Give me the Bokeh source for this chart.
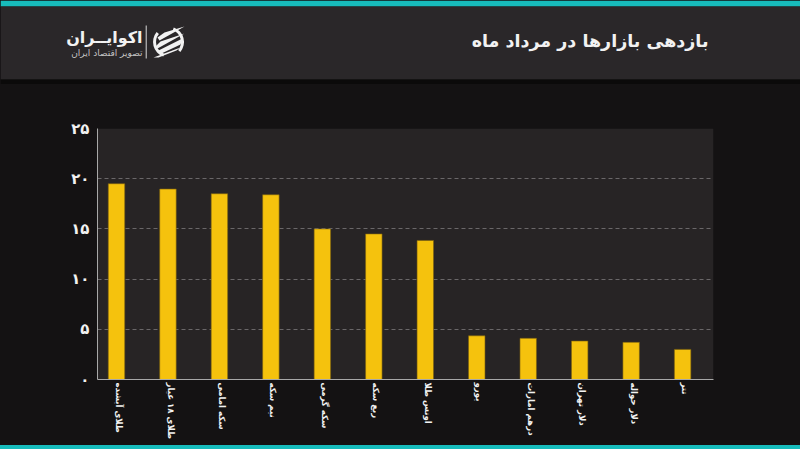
import math
from bokeh.plotting import figure
from bokeh.layouts import column
from bokeh.models import BoxAnnotation, Div, FixedTicker, Range1d
from bokeh.core.properties import value
from bokeh.embed import file_html
from bokeh.resources import INLINE

categories = ["طلای آبشده", "طلای ۱۸ عیار", "سکه امامی", "نیم سکه", "سکه گرمی", "ربع سکه",
              "اونس طلا", "یورو", "درهم امارات", "دلار تهران", "دلار حواله", "تتر"]
returns = [19.5, 18.97, 18.5, 18.4, 15.0, 14.5, 13.85, 4.35, 4.1, 3.83, 3.7, 3.0]
y_ticks = [0, 5, 10, 15, 20, 25]
y_tick_labels = ["۰", "۵", "۱۰", "۱۵", "۲۰", "۲۵"]
title_text = "بازدهی بازارها در مرداد ماه"
brand_text = "اکوایــران"
tagline_text = "تصویر اقتصاد ایران"

FONT = "DejaVu Sans"
BG = "#141213"
PANEL = "#2a2729"
TEAL = "#17bcbc"
WHITE = "#f2f2f2"

# ---- header strip: a figure whose ranges are its own pixels
h = figure(x_range=Range1d(0, 800), y_range=Range1d(84, 0), width=800, height=84,
           output_backend="svg", toolbar_location=None, min_border=0, frame_align=False,
           background_fill_color=None, border_fill_color=None, outline_line_color=None)
h.axis.visible = False
h.grid.visible = False
h.quad(left=[0], right=[800], top=[0], bottom=[6], fill_color=TEAL, line_color=None)
h.quad(left=[0], right=[800], top=[6], bottom=[79], fill_color=PANEL, line_color=None)
h.quad(left=[0], right=[800], top=[79], bottom=[84], fill_color="#0b0a0a", line_color=None)

h.text(x=[708], y=[40], text=[title_text], text_font=value(FONT), text_font_size="17.5px",
       text_font_style="bold", text_color=WHITE, text_align="right", text_baseline="middle")
h.text(x=[142], y=[37], text=[brand_text], text_font=value(FONT), text_font_size="16px",
       text_font_style="bold", text_color=WHITE, text_align="right", text_baseline="middle")
h.text(x=[142], y=[52], text=[tagline_text], text_font=value(FONT), text_font_size="9px",
       text_color="#c4c4c4", text_align="right", text_baseline="middle")
h.quad(left=[145.2], right=[146.2], top=[25], bottom=[58], fill_color="#d8d8d8", line_color=None)

# logo: ring arcs and diagonal stripes
h.annular_wedge(x=[168, 168], y=[41.5, 41.5], inner_radius=12.5, outer_radius=15.5,
                start_angle=[math.radians(140), math.radians(-40)],
                end_angle=[math.radians(250), math.radians(70)],
                direction="anticlock", fill_color=WHITE, line_color=None)
h.patches(xs=[[184, 164, 157, 159], [184, 160, 155, 157], [182, 158, 161, 180], [180, 153, 158, 176]],
          ys=[[26, 32, 37, 40], [33, 41, 46, 48], [38, 50, 53, 44], [47, 57, 57, 50]],
          fill_color=WHITE, line_color=None)

# ---- chart
positions = list(range(len(categories)))
label_ticks = [i + 0.05 for i in positions]
p = figure(x_range=Range1d(-0.369, 11.6), y_range=Range1d(0, 25), width=800, height=361,
           frame_width=616, frame_height=251,
           output_backend="svg", toolbar_location=None, frame_align=False,
           min_border_left=97, min_border_right=87, min_border_top=44, min_border_bottom=66,
           background_fill_color=None, border_fill_color=None, outline_line_color=None)

p.add_layout(BoxAnnotation(fill_color="#272425", fill_alpha=1, line_color=None, level="image"))
p.vbar(x=positions, top=returns, width=0.32, fill_color="#f5c20d", line_color="#7a5f10", line_width=0.6)

p.xgrid.visible = False
p.ygrid.grid_line_color = "#6a6769"
p.ygrid.grid_line_dash = "4 3"

p.yaxis.ticker = FixedTicker(ticks=y_ticks)
p.yaxis.major_label_overrides = dict(zip(y_ticks, y_tick_labels))
p.yaxis.major_label_text_color = WHITE
p.yaxis.major_label_text_font = FONT
p.yaxis.major_label_text_font_style = "bold"
p.yaxis.major_label_text_font_size = "15px"
p.yaxis.major_tick_line_color = None
p.yaxis.minor_tick_line_color = None
p.yaxis.axis_line_color = "#a8a8a8"
p.yaxis.major_label_standoff = 2

p.xaxis.ticker = FixedTicker(ticks=label_ticks)
p.xaxis.major_label_overrides = dict(zip(label_ticks, categories))
p.xaxis.major_label_orientation = -math.pi / 2
p.xaxis.major_label_text_color = WHITE
p.xaxis.major_label_text_font = FONT
p.xaxis.major_label_text_font_style = "bold"
p.xaxis.major_label_text_font_size = "8.6px"
p.xaxis.major_tick_line_color = None
p.xaxis.minor_tick_line_color = None
p.xaxis.axis_line_color = "#a8a8a8"
p.xaxis.major_label_standoff = -3

# ---- footer strip
footer = Div(text="", width=800, height=4, margin=0, styles={"background-color": TEAL})

layout = column(h, p, footer, spacing=0)
layout.styles = {"position": "absolute", "left": "0px", "top": "0px", "background-color": BG}

open("out.html", "w").write(file_html(layout, INLINE))
